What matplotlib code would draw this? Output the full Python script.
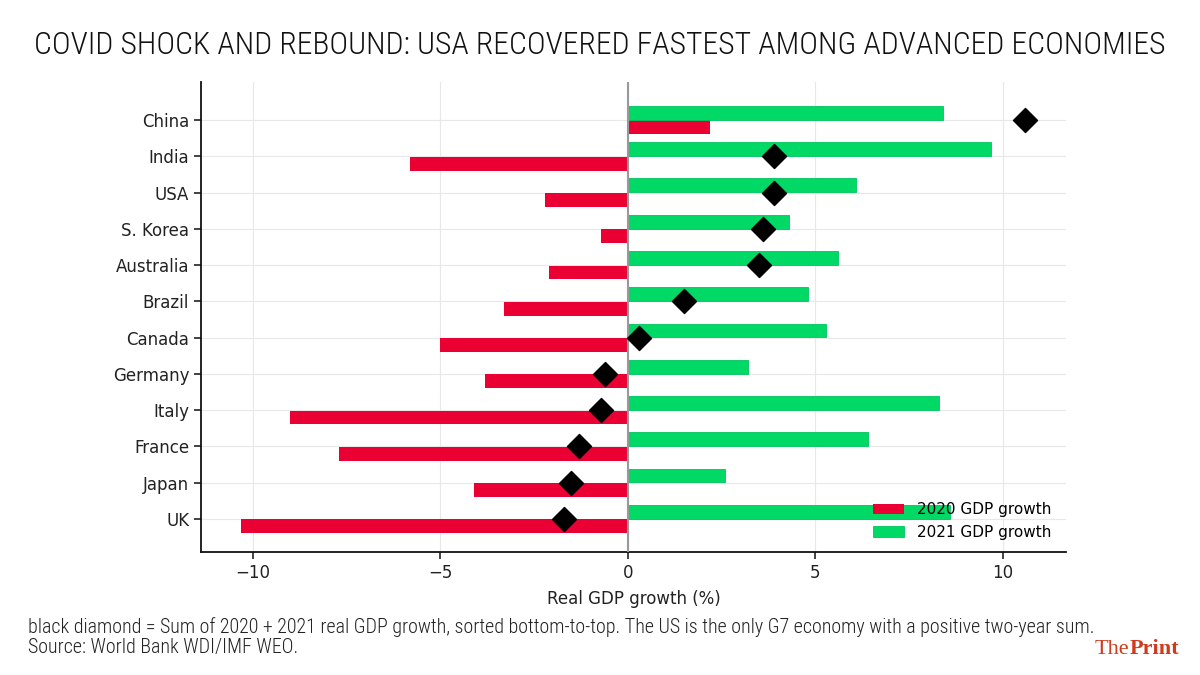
import matplotlib
matplotlib.use("Agg")
import matplotlib.pyplot as plt
from matplotlib import font_manager
import numpy as np

# data, bottom-to-top (sorted by two-year sum)
countries = ["UK", "Japan", "France", "Italy", "Germany", "Canada",
             "Brazil", "Australia", "S. Korea", "USA", "India", "China"]
gdp_2020 = [-10.3, -4.1, -7.7, -9.0, -3.8, -5.0, -3.3, -2.1, -0.7, -2.2, -5.8, 2.2]
gdp_2021 = [8.6, 2.6, 6.4, 8.3, 3.2, 5.3, 4.8, 5.6, 4.3, 6.1, 9.7, 8.4]
two_year = [a + b for a, b in zip(gdp_2020, gdp_2021)]

RED = "#EB0033"
GREEN = "#00D966"

plt.rcParams["font.family"] = ["DejaVu Sans"]

installed = {f.name for f in font_manager.fontManager.ttflist}
narrow = next((f for f in ["Roboto Condensed", "Liberation Sans Narrow",
                           "DejaVu Sans Condensed", "Open Sans Condensed"]
               if f in installed), "DejaVu Sans")

fig = plt.figure(figsize=(12, 6.75), dpi=100)
ax = fig.add_axes([0.1675, 0.1822, 0.7208, 0.6963])

y = np.arange(len(countries))
h = 0.38
ax.barh(y - 0.2, gdp_2020, height=h, color=RED, label="2020 GDP growth", zorder=2)
ax.barh(y + 0.2, gdp_2021, height=h, color=GREEN, edgecolor="#00C45C",
        linewidth=0.6, label="2021 GDP growth", zorder=2)
ax.scatter(two_year, y, marker="D", s=150, color="black", zorder=4)

ax.axvline(0, color="#999999", lw=1.5, zorder=3)
ax.grid(True, color="#e8e8e8", lw=0.8, zorder=0)
ax.set_axisbelow(True)

ax.set_xlim(-11.38, 11.69)
ax.set_ylim(-0.91, 12.05)
ax.set_xticks([-10, -5, 0, 5, 10])
ax.set_xticklabels(["\u221210", "\u22125", "0", "5", "10"])
ax.set_yticks(y)
ax.set_yticklabels(countries)
ax.tick_params(labelsize=12, length=5, width=1.2, colors="#222222")
for s in ["top", "right"]:
    ax.spines[s].set_visible(False)
for s in ["left", "bottom"]:
    ax.spines[s].set_linewidth(1.3)
    ax.spines[s].set_color("#111111")
ax.set_xlabel("Real GDP growth (%)", fontsize=12, color="#222222", labelpad=6)

ax.legend(loc="lower left", bbox_to_anchor=(0.7275, 0.2), bbox_transform=fig.transFigure,
          frameon=False, fontsize=11, borderpad=0, borderaxespad=0,
          handlelength=2.0, handletextpad=0.9)

# title and caption, scaled to fit the reference widths
fig.canvas.draw()
r = fig.canvas.get_renderer()

def fit(t, width_px):
    w = t.get_window_extent(r).width
    t.set_fontsize(t.get_fontsize() * width_px / w)

title = fig.text(0.5, 1 - 45 / 675, "COVID SHOCK AND REBOUND: USA RECOVERED FASTEST AMONG ADVANCED ECONOMIES",
                 ha="center", va="center", fontsize=30, family=narrow, weight="light",
                 color="#111111")
fit(title, 1130)

cap1 = fig.text(28 / 1200, 1 - 627 / 675,
                "black diamond = Sum of 2020 + 2021 real GDP growth, sorted bottom-to-top. "
                "The US is the only G7 economy with a positive two-year sum.",
                ha="left", va="center", fontsize=12, family=narrow, weight="light",
                color="#222222")
fit(cap1, 1071)
fig.text(28 / 1200, 1 - 648 / 675, "Source: World Bank WDI/IMF WEO.",
         ha="left", va="center", fontsize=cap1.get_fontsize(), family=narrow,
         weight="light", color="#222222")

t_the = fig.text(1095 / 1200, 1 - 649 / 675, "The", ha="left", va="center",
                 fontsize=16, family="Liberation Serif", color="#D13A1C")
fig.canvas.draw()
bb = t_the.get_window_extent(r)
fig.text(bb.x1 / 1200, 1 - 649 / 675, "Print", ha="left", va="center",
         fontsize=16, family="Liberation Serif", weight="bold", color="#D13A1C")

fig.savefig("out.png", dpi=100)
